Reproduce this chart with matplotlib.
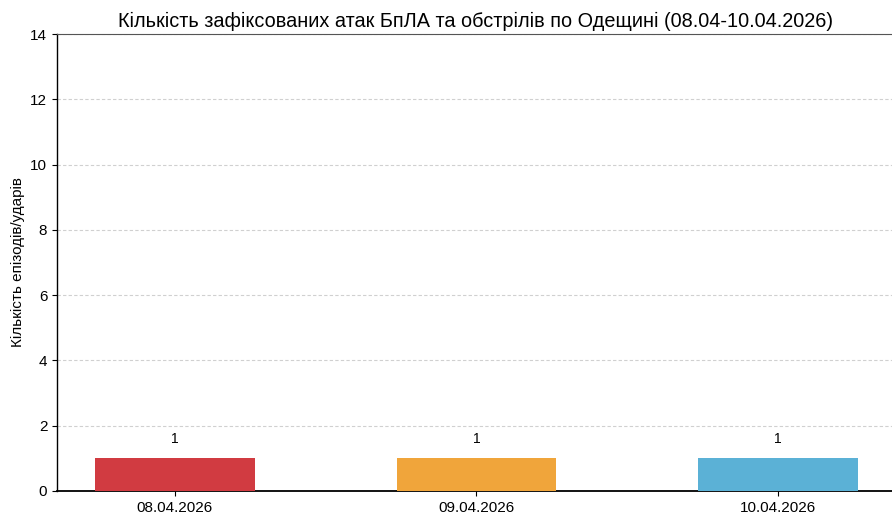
import matplotlib
matplotlib.use("Agg")
from matplotlib import pyplot as plt

plt.rcParams["font.family"] = ["Liberation Sans", "DejaVu Sans"]

DATES = ["08.04.2026", "09.04.2026", "10.04.2026"]
COUNTS = [1, 1, 1]
COLORS = ["#d13b41", "#f0a53b", "#5bb1d6"]

fig = plt.figure(figsize=(8.92, 5.15), dpi=100)
ax = fig.add_axes([57 / 892, 24 / 515, 838 / 892, 457 / 515])

x = list(range(len(DATES)))
ax.bar(x, COUNTS, width=0.53, color=COLORS, edgecolor="none", zorder=3)

for xi, v in zip(x, COUNTS):
    ax.annotate(str(v), (xi, v), xytext=(0, 9), textcoords="offset points",
                ha="center", va="bottom", fontsize=10)

ax.set_xticks(x)
ax.set_xticklabels(DATES, fontsize=11)
ax.set_xlim(-0.391, 2.388)
ax.set_ylim(0, 14)
ax.set_yticks(range(0, 15, 2))
ax.tick_params(axis="y", labelsize=11)
ax.yaxis.grid(True, linestyle=(0, (3, 2)), color="#d0d0d0", linewidth=0.8, zorder=0)
ax.set_axisbelow(True)

ax.set_ylabel("Кількість епізодів/ударів", fontsize=11)
ax.set_title("Кількість зафіксованих атак БпЛА та обстрілів по Одещині (08.04-10.04.2026)",
             fontsize=14.3, pad=5)

ax.spines["top"].set_color("#555555")
ax.spines["left"].set_linewidth(1.0)
ax.spines["bottom"].set_linewidth(1.3)

fig.savefig("out.png", dpi=100)
